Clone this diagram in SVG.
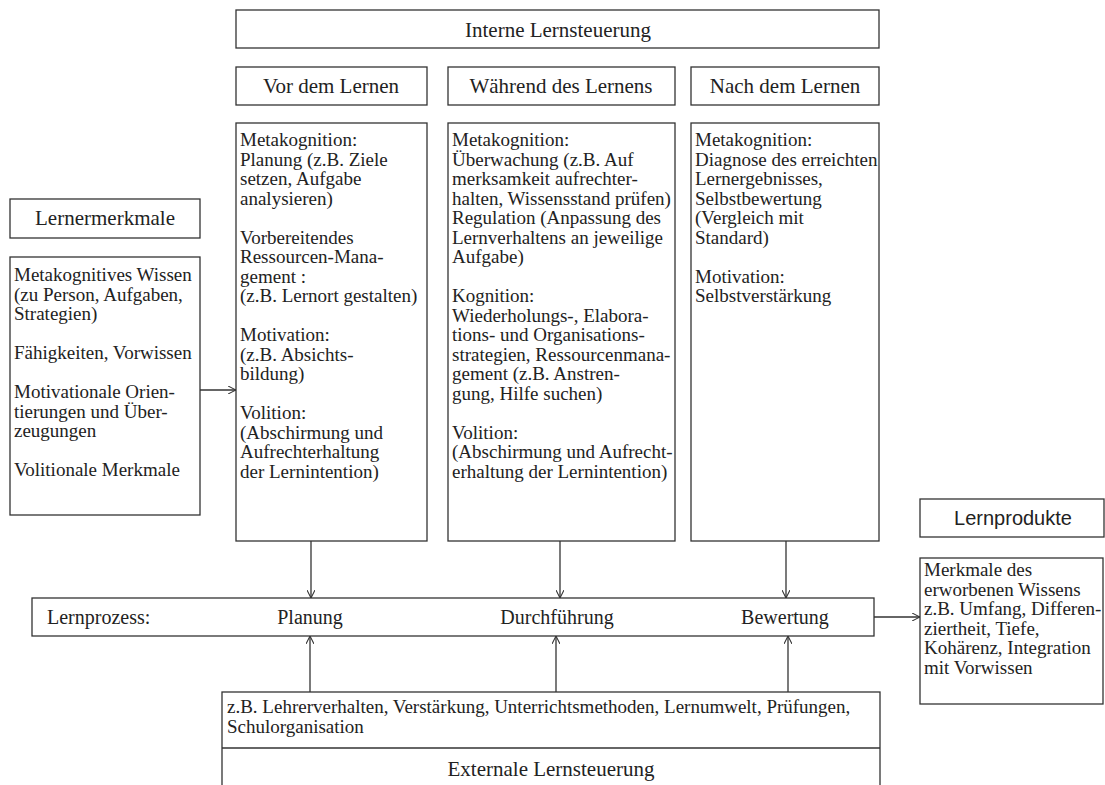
<svg xmlns="http://www.w3.org/2000/svg" width="1105" height="785" viewBox="0 0 1105 785">
<style>
.b{fill:#fff;stroke:#333;stroke-width:1.3}
.t{font-family:"Liberation Serif","Times New Roman",serif;font-size:19px;fill:#222}
.h{font-family:"Liberation Serif","Times New Roman",serif;font-size:21px;fill:#222;text-anchor:middle}
.p{font-family:"Liberation Serif","Times New Roman",serif;font-size:20px;fill:#222}
.s{font-family:"Liberation Sans",Arial,sans-serif;font-size:20px;fill:#222;text-anchor:middle}
.c{stroke:#333;stroke-width:1.3;fill:none;marker-end:url(#a)}
</style>
<defs>
<marker id="a" viewBox="0 0 10 10" refX="10" refY="5" markerWidth="8" markerHeight="8" markerUnits="userSpaceOnUse" orient="auto">
<path d="M0,0 L10,5 L0,10" fill="none" stroke="#333" stroke-width="1.3"/>
</marker>
</defs>
<rect width="1105" height="785" fill="#fff"/>
<g id="interne">
<rect class="b" x="236" y="10" width="643" height="38"/>
<text class="h" x="558" y="37">Interne Lernsteuerung</text>
</g>
<g id="vor-head">
<rect class="b" x="236" y="67" width="191" height="38"/>
<text class="h" x="331" y="93">Vor dem Lernen</text>
</g>
<g id="waehrend-head">
<rect class="b" x="448" y="67" width="227" height="38"/>
<text class="h" x="561" y="93">Während des Lernens</text>
</g>
<g id="nach-head">
<rect class="b" x="691" y="67" width="188" height="38"/>
<text class="h" x="785" y="93">Nach dem Lernen</text>
</g>
<g id="vor">
<rect class="b" x="236" y="123" width="191" height="418"/>
<text class="t" x="240" y="146">
<tspan x="240">Metakognition:</tspan>
<tspan x="240" dy="19.5">Planung (z.B. Ziele</tspan>
<tspan x="240" dy="19.5">setzen, Aufgabe</tspan>
<tspan x="240" dy="19.5">analysieren)</tspan>
<tspan x="240" dy="39">Vorbereitendes</tspan>
<tspan x="240" dy="19.5">Ressourcen-Mana-</tspan>
<tspan x="240" dy="19.5">gement :</tspan>
<tspan x="240" dy="19.5">(z.B. Lernort gestalten)</tspan>
<tspan x="240" dy="39">Motivation:</tspan>
<tspan x="240" dy="19.5">(z.B. Absichts-</tspan>
<tspan x="240" dy="19.5">bildung)</tspan>
<tspan x="240" dy="39">Volition:</tspan>
<tspan x="240" dy="19.5">(Abschirmung und</tspan>
<tspan x="240" dy="19.5">Aufrechterhaltung</tspan>
<tspan x="240" dy="19.5">der Lernintention)</tspan>
</text>
</g>
<g id="waehrend">
<rect class="b" x="448" y="123" width="227" height="418"/>
<text class="t" x="452" y="146">
<tspan x="452">Metakognition:</tspan>
<tspan x="452" dy="19.5">Überwachung (z.B. Auf</tspan>
<tspan x="452" dy="19.5">merksamkeit aufrechter-</tspan>
<tspan x="452" dy="19.5">halten, Wissensstand prüfen)</tspan>
<tspan x="452" dy="19.5">Regulation (Anpassung des</tspan>
<tspan x="452" dy="19.5">Lernverhaltens an jeweilige</tspan>
<tspan x="452" dy="19.5">Aufgabe)</tspan>
<tspan x="452" dy="39">Kognition:</tspan>
<tspan x="452" dy="19.5">Wiederholungs-, Elabora-</tspan>
<tspan x="452" dy="19.5">tions- und Organisations-</tspan>
<tspan x="452" dy="19.5">strategien, Ressourcenmana-</tspan>
<tspan x="452" dy="19.5">gement (z.B. Anstren-</tspan>
<tspan x="452" dy="19.5">gung, Hilfe suchen)</tspan>
<tspan x="452" dy="39">Volition:</tspan>
<tspan x="452" dy="19.5">(Abschirmung und Aufrecht-</tspan>
<tspan x="452" dy="19.5">erhaltung der Lernintention)</tspan>
</text>
</g>
<g id="nach">
<rect class="b" x="691" y="123" width="188" height="418"/>
<text class="t" x="695" y="146">
<tspan x="695">Metakognition:</tspan>
<tspan x="695" dy="19.5">Diagnose des erreichten</tspan>
<tspan x="695" dy="19.5">Lernergebnisses,</tspan>
<tspan x="695" dy="19.5">Selbstbewertung</tspan>
<tspan x="695" dy="19.5">(Vergleich mit</tspan>
<tspan x="695" dy="19.5">Standard)</tspan>
<tspan x="695" dy="39">Motivation:</tspan>
<tspan x="695" dy="19.5">Selbstverstärkung</tspan>
</text>
</g>
<g id="lernermerkmale-head">
<rect class="b" x="10" y="199" width="190" height="39"/>
<text class="h" x="105" y="225">Lernermerkmale</text>
</g>
<g id="lernermerkmale">
<rect class="b" x="10" y="257" width="190" height="258"/>
<text class="t" x="14" y="281">
<tspan x="14">Metakognitives Wissen</tspan>
<tspan x="14" dy="19.5">(zu Person, Aufgaben,</tspan>
<tspan x="14" dy="19.5">Strategien)</tspan>
<tspan x="14" dy="39">Fähigkeiten, Vorwissen</tspan>
<tspan x="14" dy="39">Motivationale Orien-</tspan>
<tspan x="14" dy="19.5">tierungen und Über-</tspan>
<tspan x="14" dy="19.5">zeugungen</tspan>
<tspan x="14" dy="39">Volitionale Merkmale</tspan>
</text>
</g>
<g id="lernprozess">
<rect class="b" x="32" y="598" width="842" height="38"/>
<text class="p" x="47" y="624">Lernprozess:</text>
<text class="p" x="310" y="624" text-anchor="middle">Planung</text>
<text class="p" x="557" y="624" text-anchor="middle">Durchführung</text>
<text class="p" x="785" y="624" text-anchor="middle">Bewertung</text>
</g>
<g id="lernprodukte-head">
<rect class="b" x="920" y="499" width="184" height="38"/>
<text class="s" x="1013" y="525">Lernprodukte</text>
</g>
<g id="lernprodukte">
<rect class="b" x="920" y="558" width="183" height="146"/>
<text class="t" x="924" y="576">
<tspan x="924">Merkmale des</tspan>
<tspan x="924" dy="19.5">erworbenen Wissens</tspan>
<tspan x="924" dy="19.5">z.B. Umfang, Differen-</tspan>
<tspan x="924" dy="19.5">ziertheit, Tiefe,</tspan>
<tspan x="924" dy="19.5">Kohärenz, Integration</tspan>
<tspan x="924" dy="19.5">mit Vorwissen</tspan>
</text>
</g>
<g id="externe">
<rect class="b" x="222" y="692" width="658" height="110"/>
<line x1="222" y1="748" x2="880" y2="748" stroke="#333" stroke-width="1.3"/>
<text class="t" x="227" y="713">
<tspan x="227">z.B. Lehrerverhalten, Verstärkung, Unterrichtsmethoden, Lernumwelt, Prüfungen,</tspan>
<tspan x="227" dy="19.5">Schulorganisation</tspan>
</text>
<text class="h" x="551" y="776">Externale Lernsteuerung</text>
</g>
<g id="connectors">
<line class="c" x1="200" y1="390" x2="236" y2="390"/>
<line class="c" x1="311" y1="541" x2="311" y2="598"/>
<line class="c" x1="560" y1="541" x2="560" y2="598"/>
<line class="c" x1="786" y1="541" x2="786" y2="598"/>
<line class="c" x1="310" y1="692" x2="310" y2="636"/>
<line class="c" x1="556" y1="692" x2="556" y2="636"/>
<line class="c" x1="788" y1="692" x2="788" y2="636"/>
<line class="c" x1="874" y1="617" x2="920" y2="617"/>
</g>
</svg>
